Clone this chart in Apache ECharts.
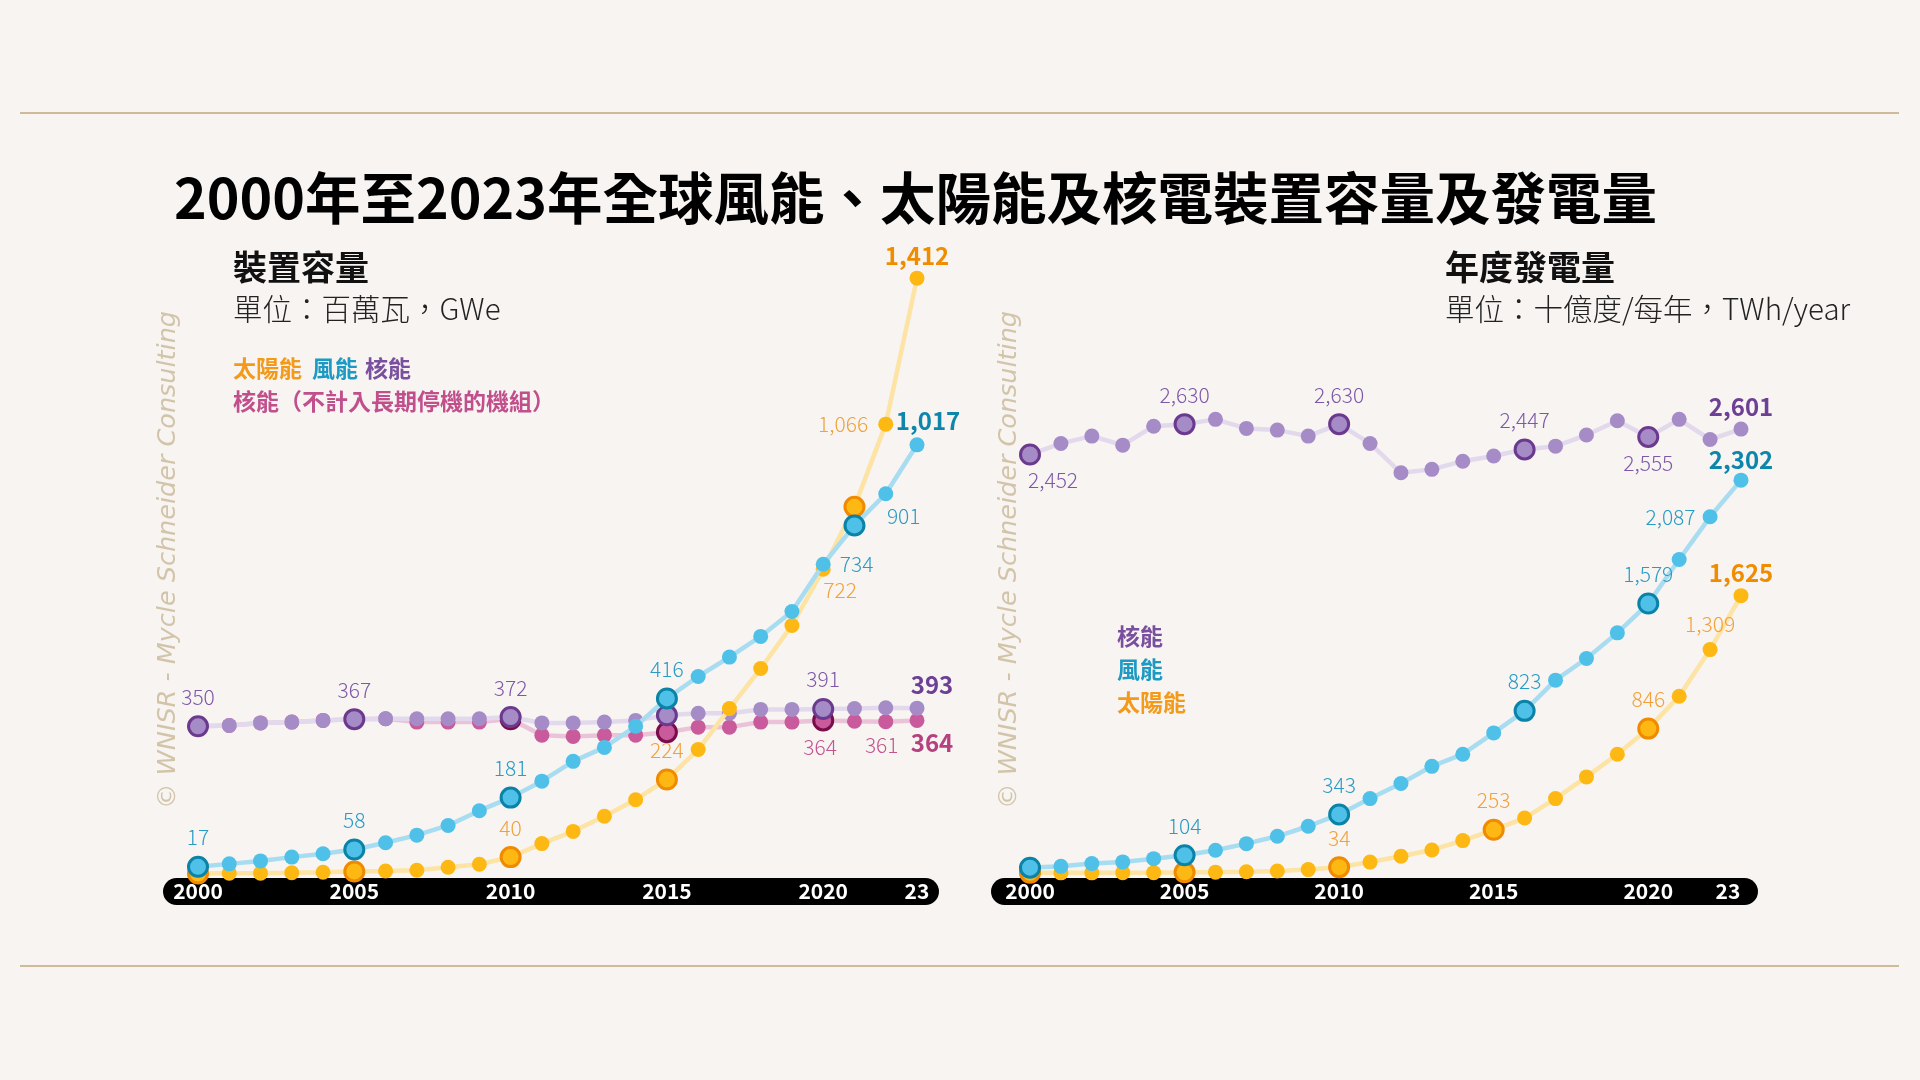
<!DOCTYPE html>
<html>
<head>
<meta charset="utf-8">
<script src="https://cdn.jsdelivr.net/npm/echarts@6/dist/echarts.min.js"></script>
<style>
html,body{margin:0;padding:0;background:#f7f4f2;}
#chart{width:1920px;height:1080px;}
</style>
</head>
<body>
<div id="chart"></div>
<script>
// ---------- DATA ----------
const years = ['2000','2001','2002','2003','2004','2005','2006','2007','2008','2009','2010','2011','2012','2013','2014','2015','2016','2017','2018','2019','2020','2021','2022','2023'];
const tickLabels = ['2000','','','','','2005','','','','','2010','','','','','2015','','','','','2020','','','23'];

// Installed capacity (GWe)
const capSolar = [1, 2, 2, 3, 4, 6, 7, 9, 16, 23, 40, 72, 101, 137, 176, 224, 295, 392, 487, 589, 722, 870, 1066, 1412];
const capWind = [17, 24, 31, 40, 48, 58, 74, 92, 115, 150, 181, 220, 267, 300, 350, 416, 468, 514, 563, 622, 734, 826, 901, 1017];
const capNuclear = [350, 352, 358, 360, 364, 367, 368, 368, 368, 368, 372, 358, 358, 360, 364, 376, 381, 381, 390, 390, 391, 392, 394, 393];
const capNuclearOperating = [350, 352, 358, 360, 364, 367, 368, 360, 360, 360, 367, 329, 326, 329, 329, 336, 348, 348, 360, 360, 364, 362, 361, 364];

// Annual generation (TWh/year)
const genNuclear = [2452, 2517, 2560, 2507, 2618, 2630, 2658, 2605, 2595, 2560, 2630, 2517, 2345, 2365, 2413, 2443, 2482, 2501, 2566, 2650, 2555, 2658, 2540, 2601];
const genWind = [31, 39, 55, 65, 84, 104, 133, 172, 215, 274, 343, 436, 524, 625, 696, 821, 950, 1130, 1257, 1407, 1579, 1837, 2087, 2302];
const genSolar = [1, 1, 1, 2, 2, 4, 5, 7, 12, 20, 34, 64, 98, 135, 190, 253, 322, 436, 563, 696, 846, 1036, 1309, 1625];

// Value label texts (as printed on the chart)
const capSolarLabels = [null,null,null,null,null,null,null,null,null,null,'40',null,null,null,null,'224',null,null,null,null,'722',null,'1,066','1,412'];
const capWindLabels = ['17',null,null,null,null,'58',null,null,null,null,'181',null,null,null,null,'416',null,null,null,null,'734',null,'901','1,017'];
const capNuclearLabels = ['350',null,null,null,null,'367',null,null,null,null,'372',null,null,null,null,null,null,null,null,null,'391',null,null,'393'];
const capNuclearOpLabels = [null,null,null,null,null,null,null,null,null,null,null,null,null,null,null,null,null,null,null,null,'364',null,'361','364'];
const genNuclearLabels = ['2,452',null,null,null,null,'2,630',null,null,null,null,'2,630',null,null,null,null,null,'2,447',null,null,null,'2,555',null,null,'2,601'];
const genWindLabels = [null,null,null,null,null,'104',null,null,null,null,'343',null,null,null,null,null,'823',null,null,null,'1,579',null,'2,087','2,302'];
const genSolarLabels = [null,null,null,null,null,null,null,null,null,null,'34',null,null,null,null,'253',null,null,null,null,'846',null,'1,309','1,625'];

// Highlighted (ringed) points
const capSolarRings = [0, 5, 10, 15, 21];
const capWindRings = [0, 5, 10, 15, 21];
const capNuclearRings = [0, 5, 10, 15, 20];
const capNuclearOpRings = [10, 15, 20];
const genNuclearRings = [0, 5, 10, 16, 20];
const genWindRings = [0, 5, 10, 16, 20];
const genSolarRings = [0, 5, 10, 15, 20];

// ---------- STYLE ----------
const FONT = '"Noto Sans CJK TC", "Noto Sans", sans-serif';
const ST = {
  solar:   {fill:'#fdb813', ring:'#f08a00', line:'#fde3a4', text:'#f2a13a', bold:'#f08c00'},
  wind:    {fill:'#4fc0e8', ring:'#0b83a6', line:'#a8dcf0', text:'#2a9bc3', bold:'#0e86ab'},
  nuclear: {fill:'#a68cc7', ring:'#6b3a8e', line:'#e3d9ec', text:'#7d58a7', bold:'#6d3f95'},
  nucOp:   {fill:'#c95a9b', ring:'#780d4a', line:'#ebc3d9', text:'#c2558f', bold:'#b5417e'}
};
// label placement overrides (index -> placement)
const PL = {
  capSolar: {20:{pos:'bottom', dist:3, off:[17,0]}, 22:{pos:'left', dist:10}},
  capWind: {20:{pos:'right', dist:9}, 22:{pos:'bottom', dist:4, off:[18,0]}, 23:{pos:'top', dist:4, off:[11,0]}},
  capNuclear: {23:{pos:'top', dist:4, off:[15,0]}},
  capNuclearOp: {20:{pos:'bottom', dist:5, off:[-3,0]}, 22:{pos:'bottom', dist:5, off:[-4,0]}, 23:{pos:'bottom', dist:3, off:[15,0]}},
  genNuclear: {0:{pos:'bottom', dist:4, off:[23,0]}, 20:{pos:'bottom', dist:5}},
  genWind: {22:{pos:'left', dist:7}, 23:{pos:'top', dist:1}},
  genSolar: {}
};

function makeSeries(name, values, labels, rings, st, place, axis, z) {
  return {
    type: 'line', name: name, xAxisIndex: axis, yAxisIndex: axis,
    symbol: 'circle', symbolSize: 15, showSymbol: true, clip: false, z: z,
    lineStyle: {color: st.line, width: 4.5},
    itemStyle: {color: st.fill},
    emphasis: {disabled: true},
    label: {show: false},
    data: values.map(function (v, i) {
      const d = {value: v};
      if (rings.indexOf(i) >= 0) {
        d.symbolSize = 19;
        d.itemStyle = {color: st.fill, borderColor: st.ring, borderWidth: 3};
      }
      const t = labels[i];
      if (t) {
        const last = (i === values.length - 1);
        const p = place[i] || {pos: 'top', dist: last ? 3 : 8};
        d.label = {
          show: true, formatter: t, position: p.pos, distance: p.dist,
          offset: p.off || [0, 0],
          color: last ? st.bold : st.text,
          fontSize: last ? 24 : 21,
          fontWeight: last ? 'bold' : 300,
          fontFamily: FONT
        };
      }
      return d;
    })
  };
}

function xAxisFor(idx, margin, lastPad) {
  return {
    type: 'category', gridIndex: idx, data: years, boundaryGap: false, z: 5,
    axisLine: {show: false}, axisTick: {show: false}, splitLine: {show: false},
    axisLabel: {
      interval: 0,
      formatter: function (v, i) {
        return (i === years.length - 1 && lastPad) ? '{e|' + tickLabels[i] + '}' : tickLabels[i];
      },
      color: '#ffffff', fontWeight: 'bold', fontSize: 21, fontFamily: FONT,
      margin: margin, verticalAlign: 'middle',
      rich: {e: {color: '#ffffff', fontWeight: 'bold', fontSize: 21, fontFamily: FONT, padding: [0, lastPad, 0, 0]}}
    }
  };
}

function txt(x, y, text, size, color, weight, extra) {
  const s = {text: text, fontSize: size, fontFamily: FONT, fontWeight: weight || 'normal',
    fill: color, verticalAlign: 'middle', align: 'left'};
  return Object.assign({type: 'text', x: x, y: y, z: 10, style: s}, extra || {});
}

const watermark = '© WNISR - Mycle Schneider Consulting';

const option = {
  backgroundColor: '#f7f4f2',
  animation: false,
  grid: [
    {left: 198, top: 241, width: 719, height: 633},
    {left: 1030, top: 361, width: 711, height: 512}
  ],
  xAxis: [xAxisFor(0, 17, 0), xAxisFor(1, 18, 26)],
  yAxis: [
    {type: 'value', gridIndex: 0, min: 0, max: 1500, show: false},
    {type: 'value', gridIndex: 1, min: 0, max: 3000, show: false}
  ],
  series: [
    makeSeries('核能（不計入長期停機的機組）', capNuclearOperating, capNuclearOpLabels, capNuclearOpRings, ST.nucOp, PL.capNuclearOp, 0, 2),
    makeSeries('核能', capNuclear, capNuclearLabels, capNuclearRings, ST.nuclear, PL.capNuclear, 0, 3),
    makeSeries('太陽能', capSolar, capSolarLabels, capSolarRings, ST.solar, PL.capSolar, 0, 4),
    makeSeries('風能', capWind, capWindLabels, capWindRings, ST.wind, PL.capWind, 0, 5),
    makeSeries('核能', genNuclear, genNuclearLabels, genNuclearRings, ST.nuclear, PL.genNuclear, 1, 3),
    makeSeries('太陽能', genSolar, genSolarLabels, genSolarRings, ST.solar, PL.genSolar, 1, 4),
    makeSeries('風能', genWind, genWindLabels, genWindRings, ST.wind, PL.genWind, 1, 5)
  ],
  graphic: [
    {type: 'line', shape: {x1: 20, y1: 113, x2: 1899, y2: 113}, style: {stroke: '#cdbb9c', lineWidth: 2}},
    {type: 'line', shape: {x1: 20, y1: 966, x2: 1899, y2: 966}, style: {stroke: '#cdbb9c', lineWidth: 2}},
    {type: 'rect', z: 1, shape: {x: 163, y: 878, width: 776, height: 27, r: 13.5}, style: {fill: '#000000'}},
    {type: 'rect', z: 1, shape: {x: 991, y: 878, width: 767, height: 27, r: 13.5}, style: {fill: '#000000'}},
    txt(174, 198, '2000年至2023年全球風能、太陽能及核電裝置容量及發電量', 55.5, '#000000', 'bold'),
    txt(233, 267, '裝置容量', 34, '#111111', 'bold'),
    txt(233, 309, '單位：百萬瓦，GWe', 29.5, '#222222', 300),
    txt(233, 368, '太陽能', 23, '#f39a1b', 'bold'),
    txt(312, 368, '風能', 23, '#1c9ac3', 'bold'),
    txt(365, 368, '核能', 23, '#7a4f9e', 'bold'),
    txt(233, 401, '核能（不計入長期停機的機組）', 23, '#c04f8c', 'bold'),
    txt(1445, 267, '年度發電量', 34, '#111111', 'bold'),
    txt(1445, 309, '單位：十億度/每年，TWh/year', 29.5, '#222222', 300),
    txt(1117, 636, '核能', 23, '#7a4f9e', 'bold'),
    txt(1117, 669, '風能', 23, '#1c9ac3', 'bold'),
    txt(1117, 702, '太陽能', 23, '#f39a1b', 'bold'),
    {type: 'text', x: 168, y: 560, rotation: Math.PI / 2, z: 10,
      style: {text: watermark, fontSize: 25.5, fontStyle: 'italic', fontWeight: 300, fontFamily: '"DejaVu Sans", sans-serif',
        fill: '#d2c4a8', align: 'center', verticalAlign: 'middle'}},
    {type: 'text', x: 1009, y: 560, rotation: Math.PI / 2, z: 10,
      style: {text: watermark, fontSize: 25.5, fontStyle: 'italic', fontWeight: 300, fontFamily: '"DejaVu Sans", sans-serif',
        fill: '#d2c4a8', align: 'center', verticalAlign: 'middle'}}
  ]
};

const chart = echarts.init(document.getElementById('chart'), null, {renderer: 'canvas'});
chart.setOption(option);
</script>
</body>
</html>
